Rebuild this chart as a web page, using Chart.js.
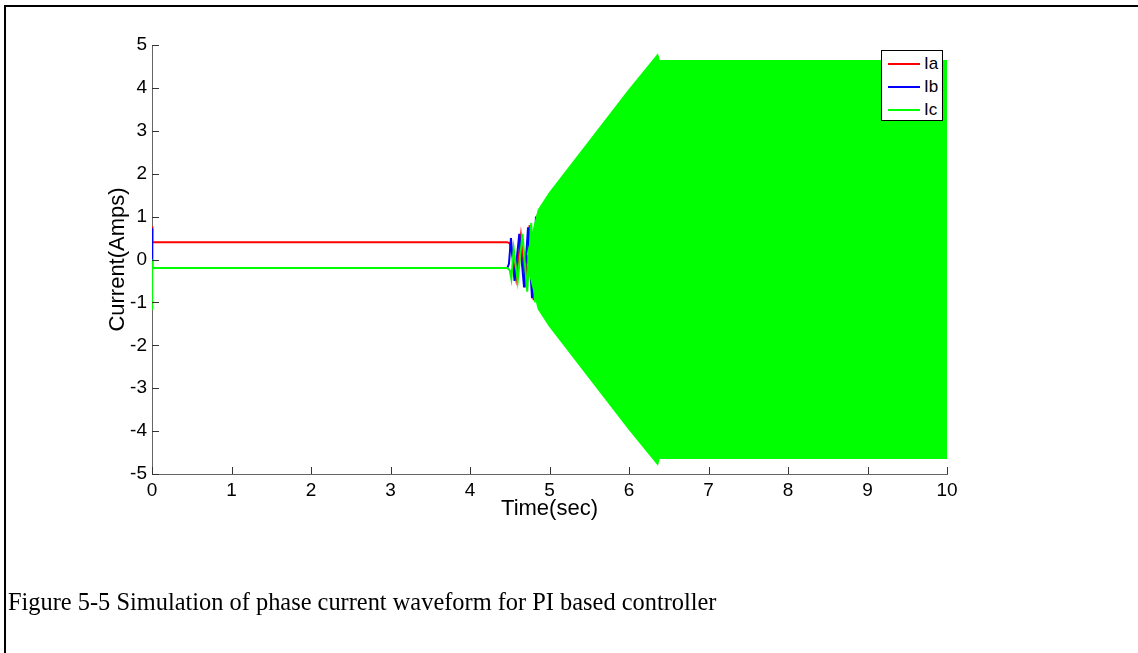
<!DOCTYPE html>
<html>
<head>
<meta charset="utf-8">
<script src="https://cdn.jsdelivr.net/npm/chart.js@4.4.1/dist/chart.umd.min.js"></script>
<style>
  html, body { margin: 0; padding: 0; background: #fff; overflow: hidden; }
  #wrap { position: relative; width: 1138px; height: 653px; }
  #frame { position: absolute; left: 4px; top: 5px; width: 1140px; height: 660px;
           border-top: 2px solid #000; border-left: 2px solid #000; box-sizing: border-box; }
  #cv { position: absolute; left: 0; top: 0; }
  #legend { position: absolute; left: 881px; top: 50px; width: 62px; height: 71px;
            background: #fff; border: 1px solid #000; box-sizing: border-box;
            font-family: "Liberation Sans", Arial, sans-serif; font-size: 17px; color: #000; }
  .li { position: absolute; left: 5px; height: 20px; width: 55px; }
  .li .sw { position: absolute; left: 1px; top: 9px; width: 32px; height: 2px; }
  .li .tx { position: absolute; left: 37px; top: 0; line-height: 20px; }
  #caption { position: absolute; left: 8px; top: 588px; font-family: "Liberation Serif", "Times New Roman", serif;
             font-size: 24.4px; color: #000; white-space: nowrap; }
</style>
</head>
<body>
<div id="wrap">
  <canvas id="cv" width="1138" height="653"></canvas>
  <div id="frame"></div>
  <div id="legend"></div>
  <div id="caption">Figure 5-5 Simulation of phase current waveform for PI based controller</div>
</div>
<script>
// ---- data ----
const seriesNames = ["Ia", "Ib", "Ic"];
const seriesColors = ["#ff0000", "#0000ff", "#00ff00"];

const tA = [0, 0.004, 4.47, 4.50, 4.54, 4.58, 4.64, 4.70, 4.75, 4.80, 4.85, 4.90, 4.95];
const iA = [0.77, 0.40, 0.40, 0.38, 0.05, -0.45, 0.55, -0.65, 0.80, -0.95, 1.05, -1.20, 1.35];

const tB = [0, 0.004, 4.47, 4.49, 4.515, 4.56, 4.62, 4.68, 4.73, 4.78, 4.83, 4.88, 4.93];
const iB = [0.73, -0.20, -0.20, -0.10, 0.50, -0.50, 0.60, -0.65, 0.75, -0.90, 1.00, -1.15, 1.30];

const tC = [0, 0, 0.004, 4.47, 4.50, 4.52, 4.55, 4.60, 4.66, 4.72, 4.77, 4.82, 4.87, 4.92, 4.97];
const iC = [0.0, -1.18, -0.20, -0.20, -0.25, -0.45, 0.25, -0.50, 0.60, -0.75, 0.85, -1.00, 1.10, -1.25, 1.40];

// envelope of the dense Ic oscillation (upper and lower extremes)
const envT  = [4.72, 4.86, 5.0, 5.5, 6.0, 6.36, 6.38, 10.0];
const envHi = [0.10, 1.15, 1.55, 2.75, 3.95, 4.77, 4.63, 4.63];
const envLo = [-0.10, -1.15, -1.55, -2.75, -3.95, -4.77, -4.63, -4.63];

const xTicks = [0, 1, 2, 3, 4, 5, 6, 7, 8, 9, 10];
const yTicks = [-5, -4, -3, -2, -1, 0, 1, 2, 3, 4, 5];

const xTitle = "Time(sec)";
const yTitle = "Current(Amps)";

// ---- build ----
const pts = (t, v) => t.map((x, i) => ({ x: x, y: v[i] }));

const FONT = "'Liberation Sans', Arial, sans-serif";

const innerTicks = {
  id: 'innerTicks',
  afterDatasetsDraw(chart) {
    const ctx = chart.ctx, a = chart.chartArea;
    const xs = chart.scales.x, ys = chart.scales.y;
    ctx.save();
    ctx.strokeStyle = '#333';
    ctx.lineWidth = 1;
    ctx.beginPath();
    xTicks.forEach(v => {
      const px = Math.round(xs.getPixelForValue(v)) + 0.5;
      ctx.moveTo(px, a.bottom); ctx.lineTo(px, a.bottom - 7);
    });
    yTicks.forEach(v => {
      const py = Math.round(ys.getPixelForValue(v)) + 0.5;
      ctx.moveTo(a.left, py); ctx.lineTo(a.left + 7, py);
    });
    ctx.stroke();
    ctx.restore();
  }
};

const ds = [
  { label: seriesNames[0], data: pts(tA, iA), borderColor: seriesColors[0], borderWidth: 2, order: 3, fill: false },
  { label: seriesNames[1], data: pts(tB, iB), borderColor: seriesColors[1], borderWidth: 2, order: 2, fill: false },
  { label: seriesNames[2], data: pts(tC, iC), borderColor: seriesColors[2], borderWidth: 2, order: 0, fill: false },
  { label: seriesNames[2] + ' hi', data: pts(envT, envHi), borderColor: seriesColors[2], backgroundColor: seriesColors[2], borderWidth: 1.5, order: 1, fill: false },
  { label: seriesNames[2] + ' lo', data: pts(envT, envLo), borderColor: seriesColors[2], backgroundColor: seriesColors[2], borderWidth: 1.5, order: 1, fill: '-1' }
];

new Chart(document.getElementById('cv'), {
  type: 'line',
  data: { datasets: ds },
  options: {
    responsive: false,
    animation: false,
    layout: { padding: { left: 0, top: 45, right: 191, bottom: 0 } },
    elements: { point: { radius: 0 }, line: { tension: 0 } },
    plugins: { legend: { display: false }, tooltip: { enabled: false } },
    scales: {
      x: {
        type: 'linear', min: 0, max: 10,
        afterBuildTicks(s) { s.ticks = xTicks.map(v => ({ value: v })); },
        afterFit(s) { s.height = 179; },
        grid: { display: false, drawTicks: false },
        border: { display: true, color: '#666', width: 1 },
        ticks: { padding: 5, color: '#000', font: { family: FONT, size: 19 }, maxRotation: 0, autoSkip: false },
        title: { display: true, text: xTitle, color: '#000', font: { family: FONT, size: 22 }, padding: { top: 0, bottom: 131 } }
      },
      y: {
        type: 'linear', min: -5, max: 5,
        afterBuildTicks(s) { s.ticks = yTicks.map(v => ({ value: v })); },
        afterFit(s) { s.width = 152; },
        grid: { display: false, drawTicks: false },
        border: { display: true, color: '#666', width: 1 },
        ticks: { padding: 5, color: '#000', font: { family: FONT, size: 19 }, autoSkip: false },
        title: { display: true, text: yTitle, color: '#000', font: { family: FONT, size: 22 }, padding: { top: 105, bottom: 0 } }
      }
    }
  },
  plugins: [innerTicks]
});

// legend (HTML text)
const lg = document.getElementById('legend');
seriesNames.forEach((n, i) => {
  const d = document.createElement('div');
  d.className = 'li';
  d.style.top = (3 + i * 23) + 'px';
  d.innerHTML = '<div class="sw" style="background:' + seriesColors[i] + '"></div><span class="tx">' + n + '</span>';
  lg.appendChild(d);
});
</script>
</body>
</html>
